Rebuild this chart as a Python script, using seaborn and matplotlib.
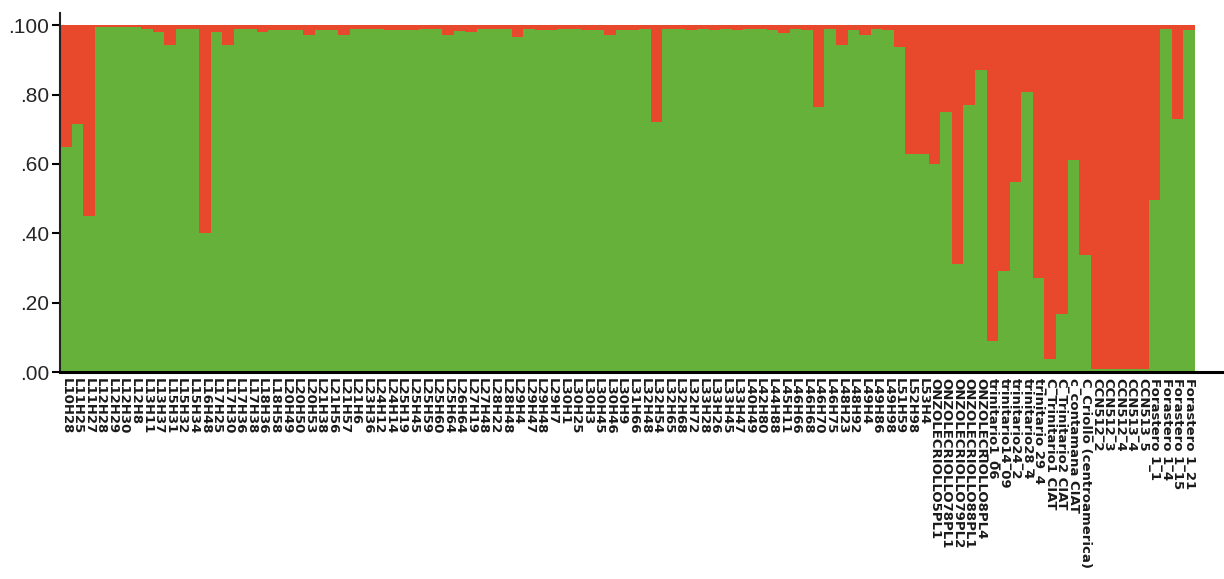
import matplotlib
matplotlib.use("Agg")
import matplotlib.pyplot as plt
import seaborn as sns
import pandas as pd

samples = [
    "L10H28", "L11H25", "L11H27", "L12H28", "L12H29", "L12H30", "L12H8", "L13H11",
    "L13H37", "L15H31", "L15H32", "L15H34", "L16H48", "L17H25", "L17H30", "L17H36",
    "L17H38", "L18H36", "L18H58", "L20H49", "L20H50", "L20H53", "L21H38", "L21H56",
    "L21H57", "L21H6", "L23H36", "L24H12", "L24H14", "L25H19", "L25H45", "L25H59",
    "L25H60", "L25H64", "L26H64", "L27H19", "L27H48", "L28H22", "L28H48", "L29H4",
    "L29H47", "L29H48", "L29H7", "L30H1", "L30H25", "L30H3", "L30H45", "L30H46",
    "L30H9", "L31H66", "L32H48", "L32H54", "L32H65", "L32H68", "L32H72", "L33H28",
    "L33H26", "L33H45", "L33H47", "L40H49", "L42H80", "L44H88", "L45H11", "L46H66",
    "L46H68", "L46H70", "L46H75", "L48H23", "L48H92", "L49H4", "L49H86", "L49H98",
    "L51H59", "L52H98", "L53H4",
    "ONZOLECRIOLLO5PL1", "ONZOLECRIOLLO78PL1", "ONZOLECRIOLLO79PL2",
    "ONZOLECRIOLLO88PL1", "ONZOLECRIOLLO8PL4",
    "trinitario1_06", "trinitario14_09", "trinitario24_2", "trinitario28_4",
    "trinitario 29_4", "C_Trinitario1 CIAT", "C_Trinitario2 CIAT", "c_contamana CIAT",
    "C_Criollo (centroamerica)",
    "CCN512_2", "CCN512_3", "CCN512_4", "CCN513_4", "CCN513_5",
    "Forastero 1_1", "Forastero 1_4", "Forastero 1_15", "Forastero 1_21",
]

# membership in cluster 1 (green); the remainder is cluster 2 (red)
green_q = [
    0.65, 0.715, 0.45, 0.995, 0.995, 0.995, 0.995, 0.99,
    0.98, 0.942, 0.988, 0.99, 0.40, 0.98, 0.942, 0.99,
    0.99, 0.98, 0.985, 0.985, 0.985, 0.972, 0.985, 0.985,
    0.972, 0.99, 0.99, 0.99, 0.986, 0.986, 0.986, 0.99,
    0.99, 0.972, 0.983, 0.98, 0.99, 0.99, 0.99, 0.965,
    0.99, 0.985, 0.985, 0.99, 0.99, 0.985, 0.985, 0.972,
    0.985, 0.985, 0.99, 0.72, 0.99, 0.99, 0.985, 0.99,
    0.985, 0.99, 0.985, 0.99, 0.99, 0.985, 0.978, 0.99,
    0.985, 0.763, 0.99, 0.942, 0.985, 0.972, 0.99, 0.986,
    0.937, 0.628, 0.628,
    0.599, 0.749, 0.311, 0.771, 0.872,
    0.089, 0.292, 0.548, 0.807, 0.272, 0.037, 0.167, 0.612, 0.338,
    0.01, 0.01, 0.01, 0.01, 0.01,
    0.495, 0.99, 0.73, 0.985,
]

ytick_vals = [0.0, 0.2, 0.4, 0.6, 0.8, 1.0]
ytick_labels = [".00", ".20", ".40", ".60", ".80", ".100"]

GREEN = "#66B13A"
RED = "#E8482C"

sns.set_theme(style="white")
plt.rcParams["font.family"] = ["Liberation Sans", "DejaVu Sans"]

df = pd.DataFrame({"sample": samples, "total": [1.0] * len(samples), "green": green_q})

fig = plt.figure(figsize=(12.24, 5.79), dpi=100)
ax = fig.add_axes([60 / 1224, 1 - 372 / 579, 1 - 60 / 1224, (372 - 13) / 579])

sns.barplot(data=df, x="sample", y="total", order=samples, color=RED, width=1.0,
            saturation=1, errorbar=None, linewidth=0, ax=ax)
sns.barplot(data=df, x="sample", y="green", order=samples, color=GREEN, width=1.0,
            saturation=1, errorbar=None, linewidth=0, ax=ax)

ax.set_xlim(-0.5, len(samples) - 0.5 + 2.5)
ax.set_ylim(0, 1.035)
ax.set_xlabel("")
ax.set_ylabel("")
ax.set_yticks(ytick_vals)
ax.set_yticklabels(ytick_labels, fontsize=15)
ax.tick_params(axis="y", length=6, width=1.5, color="black", pad=2, left=True)
ax.tick_params(axis="x", length=0, pad=4)
for lab in ax.get_xticklabels():
    lab.set_rotation(270)
    lab.set_fontsize(9.5)
    lab.set_fontweight("bold")
    lab.set_family(["DejaVu Sans"])
    lab.set_color("#1a1a1a")
    lab.set_ha("center")
    lab.set_va("top")

for s in ["top", "right"]:
    ax.spines[s].set_visible(False)
ax.spines["left"].set_color("#222222")
ax.spines["left"].set_linewidth(1.5)
ax.spines["bottom"].set_color("black")
ax.spines["bottom"].set_linewidth(2.2)

fig.savefig("out.png", dpi=100)
